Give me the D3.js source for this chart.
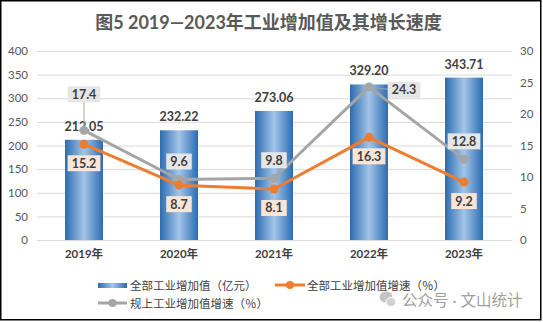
<!DOCTYPE html>
<html><head><meta charset="utf-8">
<script src="https://cdn.jsdelivr.net/npm/d3@7"></script>
<style>
html,body{margin:0;padding:0;background:#fff;}
svg{display:block;}
</style>
</head><body>
<svg id="c" width="543" height="322"></svg>
<script>
const categories = ["2019年","2020年","2021年","2022年","2023年"];
const totalValue = [212.05, 232.22, 273.06, 329.20, 343.71];
const totalGrowth = [15.2, 8.7, 8.1, 16.3, 9.2];
const aboveGrowth = [17.4, 9.6, 9.8, 24.3, 12.8];
const leftTicks = [0,50,100,150,200,250,300,350,400];
const rightTicks = [0,5,10,15,20,25,30];
const title = "图5 2019—2023年工业增加值及其增长速度";
const legendNames = ["全部工业增加值（亿元）","全部工业增加值增速（％）","规上工业增加值增速（％）"];
const watermark = "公众号 · 文山统计";

const FONT = "Lato, 'Noto Sans CJK SC', sans-serif";
const svg = d3.select("#c");
const W = 543, H = 322;

svg.append("rect").attr("x",0.75).attr("y",0.75).attr("width",W-3).attr("height",H-3)
  .attr("fill","#fff").attr("stroke","#000").attr("stroke-width",1.5);

const defs = svg.append("defs");
const grad = defs.append("linearGradient").attr("id","barGrad").attr("x1","0").attr("x2","1").attr("y1","0").attr("y2","0");
grad.append("stop").attr("offset","0%").attr("stop-color","#2c6cb0");
grad.append("stop").attr("offset","50%").attr("stop-color","#a3c5e8");
grad.append("stop").attr("offset","100%").attr("stop-color","#2c6cb0");

const x = d3.scaleBand().domain(categories).range([36.5, 511.5]).paddingInner(0.6).paddingOuter(0.3);
const xc = d => x(d) + x.bandwidth()/2;
const yL = d3.scaleLinear().domain([0,400]).range([240,51]);
const yR = d3.scaleLinear().domain([0,30]).range([240,51]);

const tt = svg.append("text").attr("x",268.5).attr("y",29).attr("text-anchor","middle")
  .attr("font-family",FONT).attr("font-size",18).attr("font-weight","bold").attr("fill","#595959").text(title);
// fit title to reference width
const tw = tt.node().getComputedTextLength();
if (Math.abs(tw - 347) > 4) tt.attr("textLength",347).attr("lengthAdjust","spacingAndGlyphs");

// grid
svg.append("g").selectAll("line").data(leftTicks).join("line")
  .attr("x1",37).attr("x2",512).attr("y1",d=>yL(d)+0.5).attr("y2",d=>yL(d)+0.5)
  .attr("stroke","#d9d9d9").attr("stroke-width",1);

// left axis
const gl = svg.append("g").attr("transform","translate(28,0)")
  .call(d3.axisLeft(yL).tickValues(leftTicks).tickSize(0).tickPadding(0));
gl.select(".domain").remove();
gl.selectAll("text").attr("font-family",FONT).attr("font-size",11.5).attr("fill","#595959");

const gr = svg.append("g").attr("transform","translate(520,0)")
  .call(d3.axisRight(yR).tickValues(rightTicks).tickSize(0).tickPadding(0));
gr.select(".domain").remove();
gr.selectAll("text").attr("font-family",FONT).attr("font-size",11.5).attr("fill","#595959");

const gx = svg.append("g").attr("transform","translate(0,240)")
  .call(d3.axisBottom(x).tickSize(0).tickPadding(10));
gx.select(".domain").remove();
gx.selectAll("text").attr("font-family",FONT).attr("font-size",11.5).attr("font-weight","bold").attr("fill","#404040");

// bars
svg.append("g").selectAll("rect").data(totalValue).join("rect")
  .attr("x",(d,i)=>x(categories[i])).attr("width",x.bandwidth())
  .attr("y",d=>yL(d)).attr("height",d=>yL(0)-yL(d)).attr("fill","url(#barGrad)");

svg.append("g").selectAll("text").data(totalValue).join("text")
  .attr("x",(d,i)=>xc(categories[i])).attr("y",d=>yL(d)-9)
  .attr("text-anchor","middle").attr("font-family",FONT).attr("font-size",12.5).attr("font-weight","bold")
  .attr("fill","#404040").text(d=>d.toFixed(2));

// lines
function drawLine(data, color){
  const line = d3.line().x((d,i)=>xc(categories[i])).y(d=>yR(d));
  svg.append("path").datum(data).attr("d",line).attr("fill","none").attr("stroke",color).attr("stroke-width",3).attr("stroke-linejoin","round");
  svg.append("g").selectAll("circle").data(data).join("circle")
    .attr("cx",(d,i)=>xc(categories[i])).attr("cy",d=>yR(d)).attr("r",4.5).attr("fill",color);
}
drawLine(aboveGrowth, "#a5a5a5");
drawLine(totalGrowth, "#ed7d31");

function label(cx, cy, txt, fill){
  const g = svg.append("g");
  const t = g.append("text").attr("x",cx).attr("y",cy).attr("text-anchor","middle").attr("dominant-baseline","central")
    .attr("font-family",FONT).attr("font-size",12.5).attr("font-weight","bold").attr("fill","#404040").text(txt);
  const bb = t.node().getBBox();
  g.insert("rect","text").attr("x",bb.x-4).attr("y",cy-8).attr("width",bb.width+8).attr("height",16).attr("fill",fill);
}

// gray labels
aboveGrowth.forEach((d,i)=>{
  const px = xc(categories[i]), py = yR(d);
  if(i===0){
    svg.append("line").attr("x1",px).attr("x2",px).attr("y1",py).attr("y2",py-36).attr("stroke","#a5a5a5").attr("stroke-width",1);
    label(px, py-36, d.toFixed(1), "#e7e6e6");
  } else if(i===3){
    svg.append("line").attr("x1",px).attr("x2",px+24).attr("y1",py).attr("y2",py+3).attr("stroke","#a5a5a5").attr("stroke-width",1);
    label(px+35, py+3, d.toFixed(1), "#e7e6e6");
  } else {
    label(px, py-18, d.toFixed(1), "#e7e6e6");
  }
});
totalGrowth.forEach((d,i)=>{
  const px = xc(categories[i]), py = yR(d);
  label(px, py+19, d.toFixed(1), "#fbe5d6");
});

// legend
const lg = svg.append("g").attr("font-family",FONT).attr("font-size",11.5).attr("fill","#404040");
lg.append("rect").attr("x",98).attr("y",283).attr("width",29).attr("height",5).attr("fill","url(#barGrad)");
lg.append("text").attr("x",130).attr("y",285).attr("dominant-baseline","central").text(legendNames[0]);
lg.append("line").attr("x1",275).attr("x2",305).attr("y1",285).attr("y2",285).attr("stroke","#ed7d31").attr("stroke-width",3);
lg.append("circle").attr("cx",290).attr("cy",285).attr("r",4).attr("fill","#ed7d31");
lg.append("text").attr("x",307).attr("y",285).attr("dominant-baseline","central").text(legendNames[1]);
lg.append("line").attr("x1",98).attr("x2",127).attr("y1",303).attr("y2",303).attr("stroke","#a5a5a5").attr("stroke-width",3);
lg.append("circle").attr("cx",112.5).attr("cy",303).attr("r",4).attr("fill","#a5a5a5");
lg.append("text").attr("x",130).attr("y",303).attr("dominant-baseline","central").text(legendNames[2]);

// watermark
const wm = svg.append("g");
wm.append("ellipse").attr("cx",386).attr("cy",297).attr("rx",6.5).attr("ry",5.5).attr("fill","#c4c4c4");
wm.append("ellipse").attr("cx",391).attr("cy",302).attr("rx",5).attr("ry",4.5).attr("fill","#d2d2d2").attr("stroke","#fff").attr("stroke-width",1);
const wt = wm.append("text").attr("x",402).attr("y",300).attr("dominant-baseline","central")
  .attr("font-family",FONT).attr("font-size",15.5).attr("fill","#a0a0a0").text(watermark);
</script>
</body></html>
